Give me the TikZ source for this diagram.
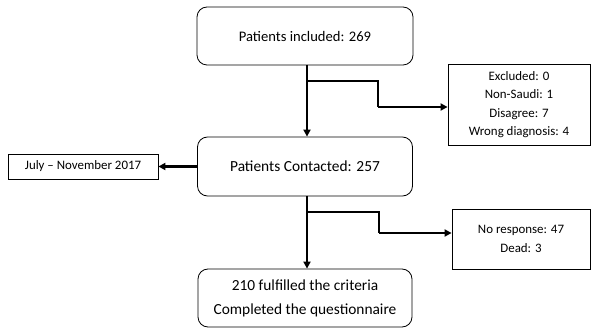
\documentclass[tikz,border=0pt]{standalone}
\usepackage{fontspec}
\setmainfont{Carlito}
\usetikzlibrary{arrows.meta}
\begin{document}
\begin{tikzpicture}[x=1pt,y=-1pt,
  mainbox/.style={draw,rounded corners=10pt,line width=0.8pt,align=center,font=\fontsize{15.4}{24}\selectfont,inner sep=0pt},
  sidebox/.style={draw,line width=0.8pt,align=center,font=\fontsize{12.9}{18.5}\selectfont,inner sep=0pt},
  conn/.style={line width=2.2pt,-{Triangle[length=7pt,width=7pt]}}]
\useasboundingbox (0,0) rectangle (593,328);
\node[mainbox,minimum width=216pt,minimum height=58pt,font=\fontsize{14.6}{24}\selectfont] (b1) at (305,36) {Patients included: 269};
\node[mainbox,minimum width=215pt,minimum height=59pt] (b2) at (305,166.5) {Patients Contacted: 257};
\node[mainbox,minimum width=214pt,minimum height=58pt] (b3) at (305,298) {210 fulfilled the criteria\\Completed the questionnaire};
\node[sidebox,minimum width=142pt,minimum height=81pt] (ex) at (519,104.5) {Excluded: 0\\Non-Saudi: 1\\Disagree: 7\\Wrong diagnosis: 4};
\node[sidebox,minimum width=150pt,minimum height=25pt] (jul) at (83,166.5) {July -- November 2017};
\node[sidebox,minimum width=138pt,minimum height=60pt] (nr) at (521,239) {No response: 47\\Dead: 3};
\coordinate (s1) at (307,65);
\coordinate (j1) at (307,81);
\coordinate (c1) at (378,81);
\coordinate (d1) at (378,107);
\coordinate (s2) at (307,196);
\coordinate (j2) at (307,212);
\coordinate (c2) at (379,212);
\coordinate (d2) at (379,233);
\draw[conn] (s1) -- (b2.north -| s1);
\draw[line width=2.2pt] (j1) -- (c1) -- (d1);
\draw[conn] (d1) -- (d1 -| ex.west);
\draw[conn] (b2.west) -- (jul.east);
\draw[conn] (s2) -- (b3.north -| s2);
\draw[line width=2.2pt] (j2) -- (c2) -- (d2);
\draw[conn] (d2) -- (d2 -| nr.west);
\end{tikzpicture}
\end{document}
